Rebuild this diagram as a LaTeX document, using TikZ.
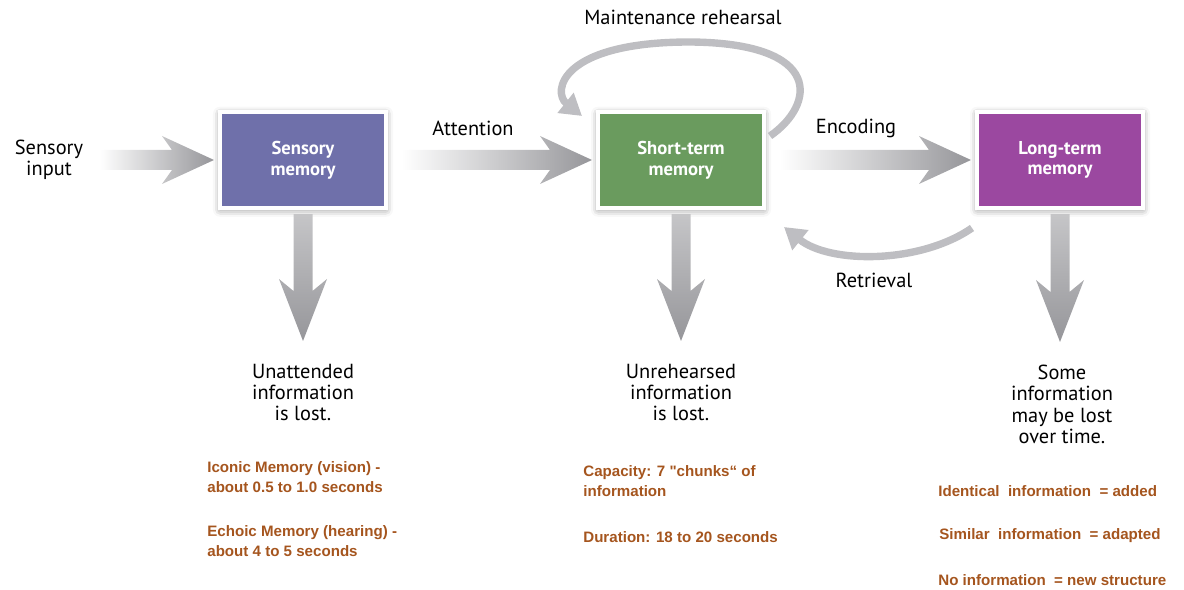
\documentclass[tikz,border=0pt]{standalone}
\usepackage{fontspec}
\setmainfont{PT Sans}
\newfontfamily\notefont{Liberation Sans}
\usetikzlibrary{calc,arrows.meta,shadows.blur}
\definecolor{sensoryblue}{RGB}{111,112,170}
\definecolor{shortgreen}{RGB}{106,155,94}
\definecolor{longpurple}{RGB}{155,72,160}
\definecolor{arrowgray}{RGB}{150,150,154}
\definecolor{loopgray}{RGB}{190,190,194}
\definecolor{notebrown}{RGB}{165,85,30}

\begin{document}
\begin{tikzpicture}[x=0.02cm, y=-0.02cm,
    store/.style ={rectangle, draw=white, line width=2.3pt, minimum width=3.32cm,
      minimum height=1.92cm, inner sep=0pt, text=white, align=center,
      font=\bfseries\fontsize{10.6}{11.8}\selectfont,
      blur shadow={shadow xshift=0pt, shadow yshift=-1pt, shadow blur radius=4pt, shadow opacity=45}},
    plain/.style ={align=center, inner sep=1pt, font=\fontsize{11.6}{12}\selectfont},
    lost/.style ={plain, anchor=north, inner sep=0pt},
    note/.style ={anchor=west, align=left, inner sep=0pt, text=notebrown,
      font=\notefont\bfseries\fontsize{8.6}{11.3}\selectfont},
    cycleline/.style ={draw=loopgray, line width=4.2pt, -{Triangle[length=12pt, width=14pt]}}]
   \useasboundingbox (0,0) rectangle (1184,590);
   % memory stores
   \node[store, fill=sensoryblue] (sm) at (303,160) {Sensory\\memory};
   \node[store, fill=shortgreen] (stm) at (681,160) {Short-term\\memory};
   \node[store, fill=longpurple] (ltm) at (1060,160) {Long-term\\memory};
   % labels
   \node[plain] (in) at (49,160) {Sensory\\input};
   \node[plain] (att) at (473,128) {Attention};
   \node[plain] (enc) at (856,128) {Encoding};
   \node[plain] (mr) at (683,17) {Maintenance rehearsal};
   \node[plain] (ret) at (874,280) {Retrieval};
   \node[lost] (smlost) at (303,364) {Unattended\\information\\is lost.};
   \node[lost] (stmlost) at (681,364) {Unrehearsed\\information\\is lost.};
   \node[lost] (ltmlost) at (1062,365) {Some\\information\\may be lost\\over time.};
   % notes
   \node[note] (iconic) at (207,477) {Iconic Memory (vision) -\\about 0.5 to 1.0 seconds};
   \node[note] (echoic) at (207,541) {Echoic Memory (hearing) -\\about 4 to 5 seconds};
   \node[note] (capacity) at (583,481) {Capacity: 7 "chunks“ of\\information};
   \node[note] (duration) at (583,537) {Duration: 18 to 20 seconds};
   \node[note] (identical) at (938,491) {Identical\ \ information\ \ = added};
   \node[note] (similar) at (939,536) {Similar\ \ information\ \ = adapted};
   \node[note] (none) at (938,580) {No information\ \ = new structure};
   % flow arrows
   \foreach \a/\b in {in/sm, sm/stm, stm/ltm}
     \shade[left color=white, right color=arrowgray]
       ($(\a.east |- \b.west)+(14,-10)$) -- ($(\b.west)+(-46,-10)$) -- ($(\b.west)+(-56,-24)$)
       -- ($(\b.west)+(-4,0)$) -- ($(\b.west)+(-56,24)$) -- ($(\b.west)+(-46,10)$)
       -- ($(\a.east |- \b.west)+(14,10)$) -- cycle;
   \foreach \b/\t in {sm/smlost, stm/stmlost, ltm/ltmlost}
     \shade[top color=arrowgray!55, bottom color=arrowgray]
       ($(\b.south)+(-9.5,4)$) -- ($(\b.south |- \t.north)+(-9.5,-73)$) -- ($(\b.south |- \t.north)+(-24,-85)$)
       -- ($(\b.south |- \t.north)+(0,-23)$) -- ($(\b.south |- \t.north)+(24,-85)$) -- ($(\b.south |- \t.north)+(9.5,-73)$)
       -- ($(\b.south)+(9.5,4)$) -- cycle;
   % rehearsal and retrieval
   \draw[cycleline] ($(stm.north east)+(4,26)$) .. controls (815,105) and (825,43) .. (690,42)
     .. controls (560,42) and (552,92) .. ($(stm.north west)+(-14,6)$);
   \draw[cycleline] ($(ltm.south west)+(-3,18)$) .. controls (920,264) and (830,264) .. ($(stm.south east)+(18,17)$);
 \end{tikzpicture}
\end{document}
